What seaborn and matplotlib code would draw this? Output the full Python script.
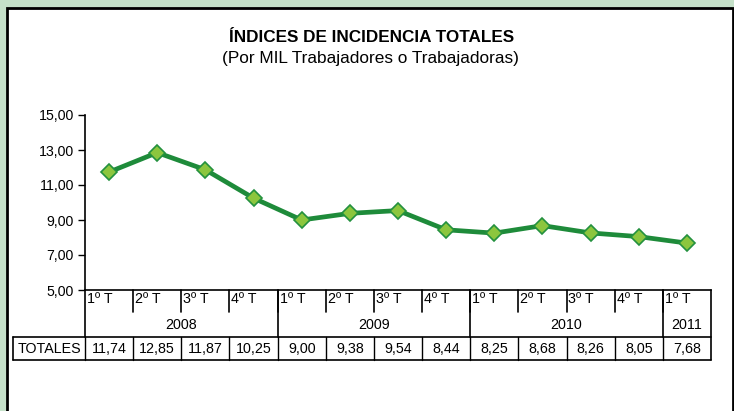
import matplotlib
matplotlib.use('Agg')
import matplotlib.pyplot as plt
import seaborn as sns
import pandas as pd
from matplotlib.patches import Rectangle

quarters = ['1º T', '2º T', '3º T', '4º T', '1º T', '2º T', '3º T', '4º T',
            '1º T', '2º T', '3º T', '4º T', '1º T']
years = ['2008', '2009', '2010', '2011']
year_sizes = [4, 4, 4, 1]
totales = [11.74, 12.85, 11.87, 10.25, 9.00, 9.38, 9.54, 8.44,
           8.25, 8.68, 8.26, 8.05, 7.68]

df = pd.DataFrame({'pos': range(len(totales)), 'valor': totales})

sns.set_style('white')
plt.rcParams['font.family'] = ['Liberation Sans', 'DejaVu Sans']
plt.rcParams['text.color'] = 'black'
plt.rcParams['ytick.color'] = 'black'
plt.rcParams['xtick.color'] = 'black'

W, H = 734, 411
fig = plt.figure(figsize=(W / 100, H / 100), dpi=100)
fig.patch.set_facecolor('#c5e1c9')

# white panel with black border
panel = Rectangle((6.5 / W, -0.01), (W - 8) / W, (H - 8.5) / H + 0.01,
                  transform=fig.transFigure, facecolor='white',
                  edgecolor='black', linewidth=2, zorder=-5)
fig.patches.append(panel)

fig.text(372 / W, 1 - 37 / H, 'ÍNDICES DE INCIDENCIA TOTALES', ha='center',
         va='center', fontsize=12.3, fontweight='bold')
fig.text(370 / W, 1 - 59 / H, '(Por MIL Trabajadores o Trabajadoras)',
         ha='center', va='center', fontsize=12.4)

x0, x1, ytop, ybot = 85, 711, 115, 290
ax = fig.add_axes([x0 / W, 1 - ybot / H, (x1 - x0) / W, (ybot - ytop) / H])
ax.set_facecolor('none')

sns.lineplot(data=df, x='pos', y='valor', ax=ax, color='#1e8b3a', linewidth=3.4,
             marker='D', markersize=8.5, markerfacecolor='#8cc63e',
             markeredgecolor='#23913e', markeredgewidth=1.2)

ax.set_xlim(-0.5, len(totales) - 0.5)
ax.set_ylim(5, 15)
ax.set_yticks([5, 7, 9, 11, 13, 15])
ax.set_yticklabels([f'{v:.2f}'.replace('.', ',') for v in [5, 7, 9, 11, 13, 15]])
ax.tick_params(axis='y', direction='out', length=5, width=1, labelsize=10.2,
               left=True, pad=3, color='black', labelcolor='black')
ax.set_xticks([])
ax.set_xlabel('')
ax.set_ylabel('')
for s in ['top', 'right']:
    ax.spines[s].set_visible(False)
for s in ['left', 'bottom']:
    ax.spines[s].set_color('black')
    ax.spines[s].set_linewidth(1.2)

# table below the axis (y in axes fraction, x in data units)
tr = ax.get_xaxis_transform()
ph = ybot - ytop
def yf(py):
    return (ybot - py) / ph

lk = dict(color='black', linewidth=1.2, clip_on=False, transform=tr)
lw = dict(color='black', linewidth=1.0, clip_on=False, transform=tr)
n = len(totales)
fs = 10.3

# quarter labels and short separators
for i, q in enumerate(quarters):
    ax.text(i - 0.5 + 0.04, yf(299), q, transform=tr, ha='left', va='center',
            fontsize=fs)
    if i > 0:
        ax.plot([i - 0.5, i - 0.5], [yf(290), yf(312)], **lk)

# year boundaries and labels
start = 0
for y, size in zip(years, year_sizes):
    ax.plot([start - 0.5, start - 0.5], [yf(290), yf(337)], **lk)
    ax.text(start - 0.5 + size / 2, yf(325), y, transform=tr, ha='center',
            va='center', fontsize=fs)
    start += size
ax.plot([n - 0.5, n - 0.5], [yf(290), yf(360)], **lk)

# TOTALES row
xl = -0.5 + (13 - x0) / ((x1 - x0) / n)
ax.plot([xl, n - 0.5], [yf(337), yf(337)], **lk)
ax.plot([xl, n - 0.5], [yf(360), yf(360)], **lk)
ax.plot([xl, xl], [yf(337), yf(360)], **lk)
ax.text((xl - 0.5) / 2, yf(349), 'TOTALES', transform=tr, ha='center',
        va='center', fontsize=fs)
for i, v in enumerate(totales):
    ax.plot([i - 0.5, i - 0.5], [yf(337), yf(360)], **lw)
    ax.text(i, yf(349), f'{v:.2f}'.replace('.', ','), transform=tr,
            ha='center', va='center', fontsize=fs)

fig.savefig('out.png', dpi=100, facecolor=fig.get_facecolor())
